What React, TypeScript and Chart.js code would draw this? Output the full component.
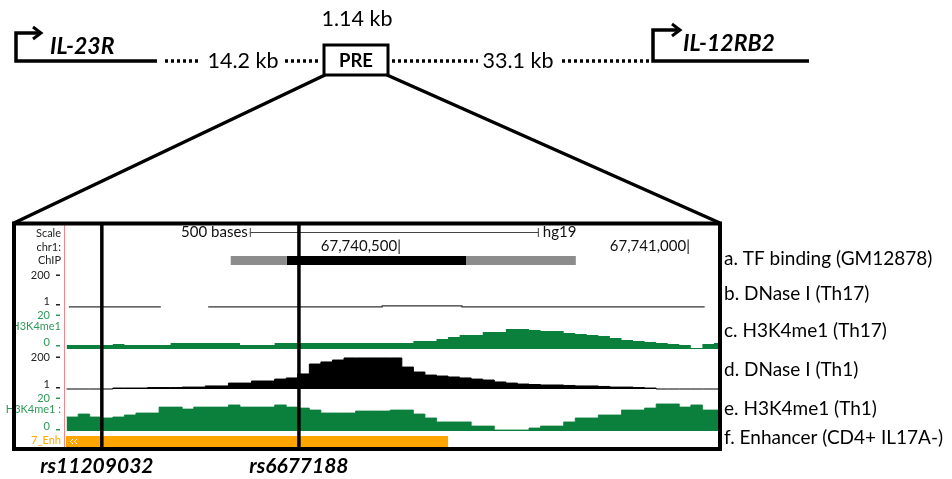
import React, { useEffect, useRef } from "react";
import { Chart, registerables } from "chart.js";

Chart.register(...registerables);

// ---------------- data ----------------
const viewStart = 67739924;
const viewEnd = 67741052;
const binStart = 67739925;
const binSize = 20;

// c. H3K4me1 (Th17), 0-20
const th17H3K4me1 = [
  2.3, 2.3, 2.3, 2.3, 2.9, 2.3, 2.3, 2.3, 2.3, 3.4,
  3.4, 3.4, 3.4, 3.4, 3.4, 2.3, 2.3, 2.3, 3.4, 3.4,
  3.4, 3.4, 3.4, 3.4, 3.4, 3.4, 3.4, 3.4, 3.4, 3.4,
  4.6, 4.6, 5.7, 6.9, 8.0, 8.0, 9.7, 9.7, 11.4, 11.4,
  10.9, 10.3, 10.3, 9.1, 8.6, 8.0, 7.4, 6.3, 5.1, 4.6,
  4.0, 3.4, 2.9, 2.3, 0.6, 2.9, 3.4,
];

// d. DNase I (Th1), 0-200
const th1DNase = [
  0, 0, 0, 0, 6, 6, 6, 9, 9, 9,
  12, 12, 19, 19, 37, 37, 50, 50, 62, 69,
  94, 156, 169, 181, 194, 194, 194, 194, 194, 137,
  106, 87, 81, 75, 69, 62, 56, 44, 37, 31,
  28, 25, 25, 22, 19, 19, 16, 12, 12, 9,
  6, 0, 0, 0, 0, 0, 0,
];

// e. H3K4me1 (Th1), 0-20
const th1H3K4me1 = [
  8.5, 10.3, 8.5, 7.9, 8.5, 9.7, 10.9, 10.9, 14.5, 14.5,
  13.3, 14.5, 14.5, 14.5, 15.8, 14.5, 14.5, 14.5, 15.8, 14.5,
  13.9, 12.7, 10.9, 10.9, 10.9, 12.1, 12.1, 12.1, 12.7, 12.7,
  10.3, 7.9, 5.5, 5.5, 5.5, 3.0, 3.0, 0.6, 0.6, 0.6,
  1.8, 3.0, 3.0, 5.5, 7.9, 7.9, 9.7, 9.7, 12.7, 12.7,
  13.9, 16.4, 16.4, 14.5, 15.8, 12.7, 12.7,
];

// a. TF binding (ChIP) clusters
const chipStarts = [67740209, 67740306, 67740616];
const chipEnds = [67740306, 67740616, 67740806];
const chipStrong = [false, true, false];
const chipMotifStart = 67740449;
const chipMotifEnd = 67740452;

// b. DNase I (Th17) segments
const th17DnaseStarts = [67739929, 67740170, 67740471, 67740609];
const th17DnaseEnds = [67740088, 67740471, 67740609, 67741029];
const th17DnaseValues = [1, 1, 7, 1];

// f. Enhancer
const enhancerStart = 67739924;
const enhancerEnd = 67740585;
const enhancerName = "7_Enh";

// SNPs
const snpNames = ["rs11209032", "rs6677188"];
const snpPositions = [67739986, 67740327];

// ruler
const rulerTicks = [67740500, 67741000];
const scaleBarStart = 67740242;
const scaleBarLength = 500;
const assembly = "hg19";
const chromName = "chr1:";

// track labels
const trackLabels = [
  "a. TF binding (GM12878)",
  "b. DNase I (Th17)",
  "c. H3K4me1 (Th17)",
  "d. DNase I (Th1)",
  "e. H3K4me1 (Th1)",
  "f. Enhancer (CD4+ IL17A-)",
];

// locus schematic
const geneNames = ["IL-23R", "IL-12RB2"];
const gapLabels = ["14.2 kb", "33.1 kb"];
const elementName = "PRE";
const elementSize = "1.14 kb";

// ---------------- layout ----------------
const W = 952;
const H = 479;
const areaLeft = 66;
const areaRight = 718;
const areaTop = 226;
const areaBottom = 447;
const FONT = "Lato, 'Open Sans', sans-serif";
const GREEN = "#0b7f3c";
const LABEL_GREEN = "#2f9a58";
const ORANGE = "#ffa500";

function bandAxis(baselinePx: number, pxPerUnit: number) {
  return {
    type: "linear" as const,
    display: false,
    min: -(areaBottom - baselinePx) / pxPerUnit,
    max: (baselinePx - areaTop) / pxPerUnit,
  };
}

function binPoints(values: number[]) {
  const pts = values.map((v, i) => ({ x: binStart + i * binSize, y: v }));
  pts.push({ x: binStart + values.length * binSize, y: values[values.length - 1] });
  return pts;
}

function segmentPoints(starts: number[], ends: number[], values: number[]) {
  const pts: { x: number; y: number | null }[] = [];
  for (let i = 0; i < starts.length; i++) {
    if (i > 0 && starts[i] > ends[i - 1]) pts.push({ x: (starts[i] + ends[i - 1]) / 2, y: null });
    pts.push({ x: starts[i], y: values[i] });
    pts.push({ x: ends[i], y: values[i] });
  }
  return pts;
}

const clipX = { left: 0, right: 0, top: false, bottom: false } as any;

const overlayPlugin = {
  id: "overlay",
  afterDraw(chart: any) {
    const ctx: CanvasRenderingContext2D = chart.ctx;
    const xs = chart.scales.x;
    const px = (v: number) => xs.getPixelForValue(v);
    ctx.save();

    // ---------- top schematic ----------
    ctx.strokeStyle = "#000";
    ctx.fillStyle = "#000";
    ctx.lineCap = "butt";
    ctx.lineJoin = "miter";
    ctx.setLineDash([]);

    const gene = (x: number, yTop: number, tipX: number, endX: number) => {
      ctx.lineWidth = 3.5;
      ctx.beginPath();
      ctx.moveTo(endX, 61);
      ctx.lineTo(x, 61);
      ctx.lineTo(x, yTop);
      ctx.lineTo(tipX, yTop);
      ctx.stroke();
      ctx.lineWidth = 3;
      ctx.beginPath();
      ctx.moveTo(tipX - 8, yTop - 6);
      ctx.lineTo(tipX, yTop);
      ctx.lineTo(tipX - 8, yTop + 6);
      ctx.stroke();
    };
    gene(16, 33, 41, 157);
    gene(653, 30, 680, 809);

    ctx.font = `bold italic 23px ${FONT}`;
    ctx.textAlign = "left";
    ctx.textBaseline = "middle";
    ctx.fillText(geneNames[0], 50, 47);
    ctx.fillText(geneNames[1], 683, 44);

    const dots = (x1: number, x2: number) => {
      ctx.lineWidth = 3.5;
      ctx.setLineDash([3, 3]);
      ctx.beginPath();
      ctx.moveTo(x1, 61);
      ctx.lineTo(x2, 61);
      ctx.stroke();
      ctx.setLineDash([]);
    };
    dots(165, 201);
    dots(285, 320);
    dots(392, 478);
    dots(562, 651);

    ctx.font = `21.5px ${FONT}`;
    ctx.textAlign = "center";
    ctx.fillText(gapLabels[0], 243, 61);
    ctx.fillText(gapLabels[1], 518, 61);
    ctx.fillText(elementSize, 357, 19);

    ctx.lineWidth = 3;
    ctx.strokeRect(324, 45, 64, 30);
    ctx.font = `bold 18.5px ${FONT}`;
    ctx.fillText(elementName, 356, 61);

    // zoom lines
    ctx.lineWidth = 3.5;
    ctx.beginPath();
    ctx.moveTo(325, 75);
    ctx.lineTo(14, 223);
    ctx.moveTo(387, 75);
    ctx.lineTo(720, 223);
    ctx.stroke();

    // ---------- ruler rows ----------
    ctx.font = `15px ${FONT}`;
    ctx.textBaseline = "middle";
    const sb0 = px(scaleBarStart);
    const sb1 = px(scaleBarStart + scaleBarLength);
    ctx.strokeStyle = "#444";
    ctx.lineWidth = 1;
    ctx.beginPath();
    ctx.moveTo(sb0, 232.5);
    ctx.lineTo(sb1, 232.5);
    ctx.moveTo(sb0 + 0.5, 228);
    ctx.lineTo(sb0 + 0.5, 237);
    ctx.moveTo(sb1 - 0.5, 228);
    ctx.lineTo(sb1 - 0.5, 237);
    ctx.stroke();
    ctx.fillStyle = "#111";
    ctx.textAlign = "right";
    ctx.fillText(`${scaleBarLength} bases`, sb0 - 2, 232);
    ctx.textAlign = "left";
    ctx.fillText(assembly, sb1 + 4, 232);

    ctx.textAlign = "right";
    rulerTicks.forEach((t) => {
      ctx.fillText(`${t.toLocaleString("en-US")}|`, px(t) + 2, 246);
    });

    // ---------- left gutter ----------
    ctx.strokeStyle = "#e88";
    ctx.lineWidth = 1;
    ctx.beginPath();
    ctx.moveTo(64.5, 225);
    ctx.lineTo(64.5, 448);
    ctx.stroke();

    ctx.font = `11px ${FONT}`;
    ctx.textAlign = "right";
    const gl = (t: string, y: number, c: string, mark?: "-" | "_") => {
      ctx.fillStyle = c;
      if (mark) {
        ctx.fillText(t, 50, y);
        ctx.fillRect(56, mark === "-" ? y - 0.5 : y + 3, 4, 1.5);
      } else {
        ctx.fillText(t, 61, y);
      }
    };
    gl("Scale", 233, "#222");
    gl(chromName, 247, "#222");
    gl("ChIP", 260, "#222");
    gl("200", 275, "#222", "-");
    gl("1", 301, "#222", "_");
    gl("20", 315, LABEL_GREEN, "-");
    gl("H3K4me1", 326, LABEL_GREEN);
    gl("0", 342, LABEL_GREEN, "_");
    gl("200", 357, "#222", "-");
    gl("1", 384, "#222", "_");
    gl("20", 398, LABEL_GREEN, "-");
    gl("H3K4me1 :", 409, LABEL_GREEN);
    gl("0", 426, LABEL_GREEN, "_");
    gl(enhancerName, 440, ORANGE);

    // enhancer strand chevrons
    const ex = px(enhancerStart) + 4;
    ctx.strokeStyle = "#fff";
    ctx.lineWidth = 1;
    [ex + 3, ex + 7].forEach((x) => {
      ctx.beginPath();
      ctx.moveTo(x, 439);
      ctx.lineTo(x - 2.5, 441.5);
      ctx.lineTo(x, 444);
      ctx.stroke();
    });

    // ---------- SNP lines ----------
    ctx.strokeStyle = "#000";
    ctx.lineWidth = 3.5;
    snpPositions.forEach((p) => {
      const x = px(p);
      ctx.beginPath();
      ctx.moveTo(x, 223);
      ctx.lineTo(x, 449);
      ctx.stroke();
    });
    ctx.fillStyle = "#000";
    ctx.font = `bold italic 21px ${FONT}`;
    ctx.textAlign = "center";
    snpNames.forEach((n, i) => {
      ctx.fillText(n, px(snpPositions[i]) - (i === 0 ? 5 : 0), 466);
    });

    // ---------- frame ----------
    ctx.lineWidth = 4;
    ctx.strokeRect(14, 223.5, 706, 225.5);

    // ---------- track labels ----------
    ctx.font = `19px ${FONT}`;
    ctx.textAlign = "left";
    ctx.fillStyle = "#000";
    const ly = [259, 294, 331, 370, 409, 438];
    trackLabels.forEach((t, i) => ctx.fillText(t, 724, ly[i]));

    ctx.restore();
  },
};

export default function App() {
  const ref = useRef<HTMLCanvasElement>(null);

  useEffect(() => {
    const canvas = ref.current;
    if (!canvas) return;

    const datasets: any[] = [];
    chipStarts.forEach((s, i) => {
      datasets.push({
        data: [{ x: s, y: 0 }, { x: chipEnds[i], y: 0 }],
        borderColor: chipStrong[i] ? "#000" : "#8c8c8c",
        borderWidth: 9,
        borderCapStyle: "butt",
        pointRadius: 0,
        yAxisID: "yA",
        clip: clipX,
      });
    });
    datasets.push({
      data: [{ x: chipMotifStart, y: 0 }, { x: chipMotifEnd, y: 0 }],
      borderColor: "#2bd12b",
      borderWidth: 9,
      borderCapStyle: "butt",
      pointRadius: 0,
      yAxisID: "yA",
      clip: clipX,
    });
    datasets.push({
      data: segmentPoints(th17DnaseStarts, th17DnaseEnds, th17DnaseValues),
      borderColor: "#333",
      borderWidth: 1.2,
      stepped: true,
      spanGaps: false,
      pointRadius: 0,
      yAxisID: "yB",
      clip: clipX,
    });
    datasets.push({
      data: binPoints(th17H3K4me1),
      borderWidth: 0,
      borderColor: GREEN,
      backgroundColor: GREEN,
      fill: "origin",
      stepped: true,
      pointRadius: 0,
      yAxisID: "yC",
      clip: clipX,
    });
    datasets.push({
      data: binPoints(th1DNase),
      borderWidth: 1,
      borderColor: "#000",
      backgroundColor: "#000",
      fill: "origin",
      stepped: true,
      pointRadius: 0,
      yAxisID: "yD",
      clip: clipX,
    });
    datasets.push({
      data: binPoints(th1H3K4me1),
      borderWidth: 0.8,
      borderColor: GREEN,
      backgroundColor: GREEN,
      fill: "origin",
      stepped: true,
      pointRadius: 0,
      yAxisID: "yE",
      clip: clipX,
    });
    datasets.push({
      data: [{ x: enhancerStart, y: 0 }, { x: enhancerEnd, y: 0 }],
      borderColor: ORANGE,
      borderWidth: 11,
      borderCapStyle: "butt",
      pointRadius: 0,
      yAxisID: "yF",
      clip: clipX,
    });

    const chart = new Chart(canvas, {
      type: "line",
      data: { datasets },
      options: {
        animation: false,
        responsive: true,
        maintainAspectRatio: false,
        events: [],
        layout: {
          padding: {
            left: areaLeft,
            right: W - areaRight,
            top: areaTop,
            bottom: H - areaBottom,
          },
        },
        plugins: { legend: { display: false }, tooltip: { enabled: false } },
        scales: {
          x: { type: "linear", display: false, min: viewStart, max: viewEnd },
          yA: bandAxis(260.5, 1),
          yB: bandAxis(307, 0.16),
          yC: bandAxis(349, 1.75),
          yD: bandAxis(389, 0.16),
          yE: bandAxis(431, 1.65),
          yF: bandAxis(441.5, 1),
        },
      },
      plugins: [overlayPlugin],
    } as any);

    return () => chart.destroy();
  }, []);

  return (
    <div style={{ position: "fixed", left: 0, top: 0, width: W, height: H, background: "#fff" }}>
      <canvas ref={ref} />
    </div>
  );
}
